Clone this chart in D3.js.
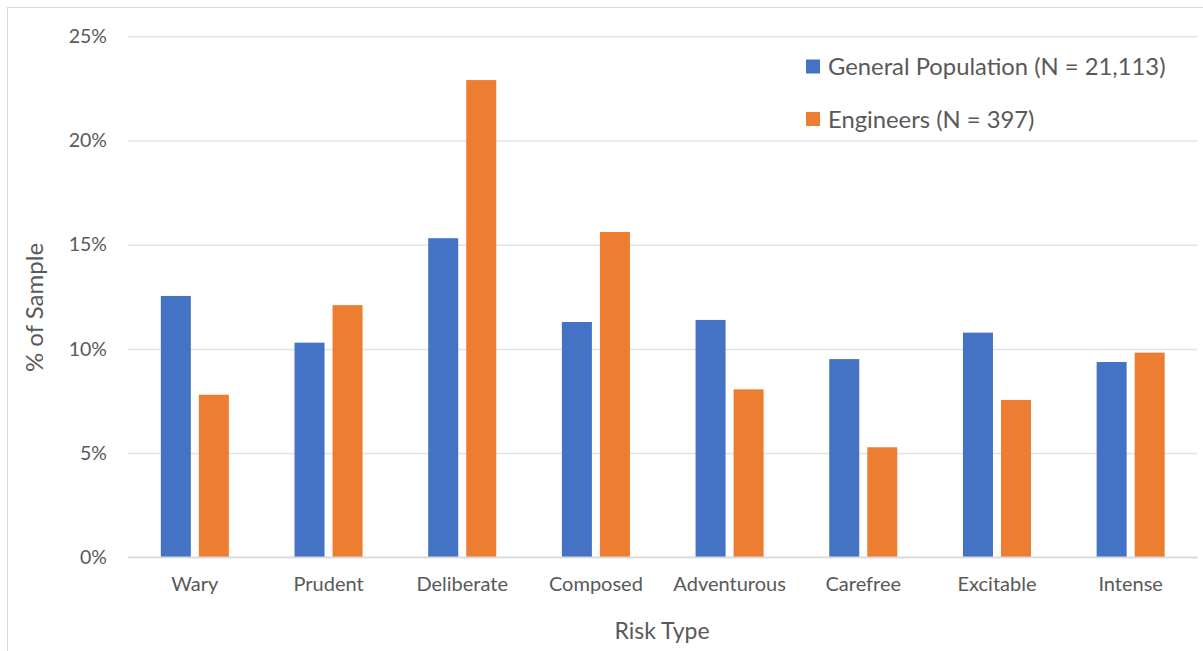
<!DOCTYPE html>
<html>
<head>
<meta charset="utf-8">
<script src="https://cdn.jsdelivr.net/npm/d3@7"></script>
<style>
  html, body { margin: 0; padding: 0; background: #ffffff; }
  svg { display: block; }
  text { font-family: Lato, "Open Sans", sans-serif; fill: #595959; }
</style>
</head>
<body>
<svg id="chart" width="1203" height="651"></svg>
<script>
const categories = ["Wary", "Prudent", "Deliberate", "Composed", "Adventurous", "Carefree", "Excitable", "Intense"];
const seriesNames = ["General Population (N = 21,113)", "Engineers (N = 397)"];
const generalPopulation = [12.54, 10.30, 15.31, 11.29, 11.39, 9.51, 10.78, 9.37];
const engineers = [7.80, 12.10, 22.90, 15.61, 8.06, 5.28, 7.55, 9.82];
const yTicks = [0, 5, 10, 15, 20, 25];
const colors = ["#4472C4", "#ED7D31"];

(function () {
const svg = d3.select("#chart");
const W = 1203, H = 651;
const mLeft = 128, mRight = 1197.5, mTop = 36.3, mBottom = 557.3;

// outer frame
svg.append("rect").attr("x", 7.5).attr("y", 7.5).attr("width", W + 10).attr("height", H + 10)
  .attr("fill", "none").attr("stroke", "#d9d9d9").attr("stroke-width", 1);

const x0 = d3.scaleBand().domain(categories).range([mLeft, mRight]).paddingInner(0.491).paddingOuter(0.2455);
const x1 = d3.scaleBand().domain([0, 1]).range([0, x0.bandwidth()]).paddingInner(0.2105).paddingOuter(0);
const y = d3.scaleLinear().domain([0, 25]).range([mBottom, mTop]);

// gridlines
const yAxis = d3.axisLeft(y).tickValues(yTicks).tickSize(-(mRight - mLeft)).tickFormat(d => d + "%").tickPadding(21);
const gy = svg.append("g").attr("transform", `translate(${mLeft},0)`).call(yAxis);
gy.select(".domain").remove();
gy.selectAll(".tick line").attr("stroke", "#e3e3e3").attr("stroke-width", 1.5);
gy.selectAll(".tick text").attr("font-size", 19.5).attr("fill", "#595959").attr("font-family", "Lato, sans-serif");

// bars
const data = categories.map((c, i) => ({ c, vals: [generalPopulation[i], engineers[i]] }));
const groups = svg.append("g").selectAll("g").data(data).join("g")
  .attr("transform", d => `translate(${x0(d.c)},0)`);
groups.selectAll("rect").data(d => d.vals.map((v, k) => ({ v, k }))).join("rect")
  .attr("x", d => x1(d.k))
  .attr("width", x1.bandwidth())
  .attr("y", d => y(d.v))
  .attr("height", d => y(0) - y(d.v))
  .attr("fill", d => colors[d.k]);

// baseline
svg.append("line").attr("x1", mLeft).attr("x2", mRight).attr("y1", y(0)).attr("y2", y(0))
  .attr("stroke", "#d9d9d9").attr("stroke-width", 1.5);

// x axis labels
const xAxis = d3.axisBottom(x0).tickSize(0).tickPadding(20);
const gx = svg.append("g").attr("transform", `translate(0,${mBottom})`).call(xAxis);
gx.select(".domain").remove();
gx.selectAll(".tick text").attr("font-size", 20).attr("fill", "#595959").attr("font-family", "Lato, sans-serif");

// axis titles
svg.append("text").attr("x", 662).attr("y", 639).attr("text-anchor", "middle")
  .attr("font-size", 23).text("Risk Type");
svg.append("text").attr("transform", "translate(43,307.5) rotate(-90)").attr("text-anchor", "middle")
  .attr("font-size", 24).text("% of Sample");

// legend
const legend = svg.append("g");
seriesNames.forEach((name, i) => {
  const cy = 66.5 + i * 52.5;
  legend.append("rect").attr("x", 806).attr("y", cy - 7).attr("width", 14).attr("height", 14).attr("fill", colors[i]);
  legend.append("text").attr("x", 828).attr("y", cy).attr("dy", "0.36em")
    .attr("font-size", 23.8).text(name);
});
})();
</script>
</body>
</html>
